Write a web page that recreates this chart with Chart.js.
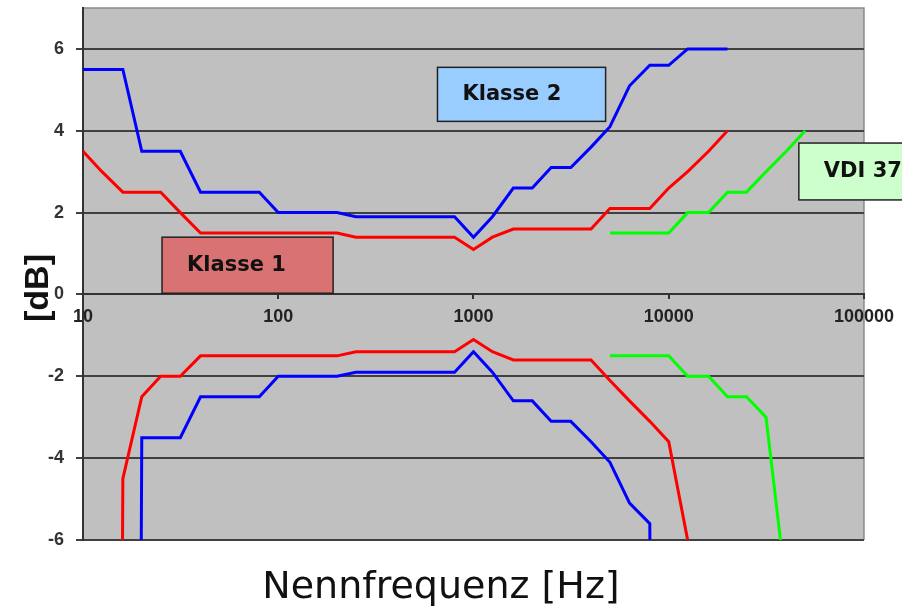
<!DOCTYPE html>
<html>
<head>
<meta charset="utf-8">
<script src="https://cdn.jsdelivr.net/npm/chart.js@4.4.0/dist/chart.umd.min.js"></script>
<style>
  body { margin: 0; background: #fff; }
  #chartBox { width: 902px; height: 610px; }
</style>
</head>
<body>
<div id="chartBox"><canvas id="toleranceChart"></canvas></div>
<script>
// third-octave centre frequencies in Hz
let freqs = [10, 12.5, 16, 20, 25, 31.5, 40, 50, 63, 80,
  100, 125, 160, 200, 250, 315, 400, 500, 630, 800,
  1000, 1250, 1600, 2000, 2500, 3150, 4000, 5000, 6300, 8000,
  10000, 12500, 16000, 20000]

// -100 stands for "minus infinity" (off the bottom of the chart)
let class1Upper = [3.5, 3.0, 2.5, 2.5, 2.5, 2.0, 1.5, 1.5, 1.5, 1.5,
  1.5, 1.5, 1.5, 1.5, 1.4, 1.4, 1.4, 1.4, 1.4, 1.4,
  1.1, 1.4, 1.6, 1.6, 1.6, 1.6, 1.6, 2.1, 2.1, 2.1,
  2.6, 3.0, 3.5, 4.0]
let class1Lower = [-100, -100, -4.5, -2.5, -2.0, -2.0, -1.5, -1.5, -1.5, -1.5,
  -1.5, -1.5, -1.5, -1.5, -1.4, -1.4, -1.4, -1.4, -1.4, -1.4,
  -1.1, -1.4, -1.6, -1.6, -1.6, -1.6, -1.6, -2.1, -2.6, -3.1,
  -3.6, -6.0, -17, -100]

let class2Upper = [5.5, 5.5, 5.5, 3.5, 3.5, 3.5, 2.5, 2.5, 2.5, 2.5,
  2.0, 2.0, 2.0, 2.0, 1.9, 1.9, 1.9, 1.9, 1.9, 1.9,
  1.4, 1.9, 2.6, 2.6, 3.1, 3.1, 3.6, 4.1, 5.1, 5.6,
  5.6, 6.0, 6.0, 6.0]
let class2Lower = [-100, -100, -100, -3.5, -3.5, -3.5, -2.5, -2.5, -2.5, -2.5,
  -2.0, -2.0, -2.0, -2.0, -1.9, -1.9, -1.9, -1.9, -1.9, -1.9,
  -1.4, -1.9, -2.6, -2.6, -3.1, -3.1, -3.6, -4.1, -5.1, -5.6,
  -100, -100, -100, -100]

// VDI 3766 (ultrasound) only covers the upper range
let vdiFreqs = [5000, 6300, 8000, 10000, 12500, 16000, 20000, 25000, 31500, 40000, 50000]
let vdiUpper = [1.5, 1.5, 1.5, 1.5, 2.0, 2.0, 2.5, 2.5, 3.0, 3.5, 4.0]
let vdiLower = [-1.5, -1.5, -1.5, -1.5, -2.0, -2.0, -2.5, -2.5, -3.0, -7.2, -100]

let xTicks = [10, 100, 1000, 10000, 100000]
let yTicks = [-6, -4, -2, 0, 2, 4, 6]

// text boxes, given in Hz / dB
let notes = [
  { text: "Klasse 2", from: 654, to: 4750, top: 5.55, bottom: 4.23, fill: "#99ccff" },
  { text: "Klasse 1", from: 25.4, to: 191, top: 1.4, bottom: 0.03, fill: "#d97272" },
  { text: "VDI 3766", from: 46400, to: 500000, top: 3.7, bottom: 2.31, fill: "#ccffcc" }
]

function toPoints(xs, ys) {
  return xs.map(function(f, i) {
    return { x: f, y: ys[i] }
  })
}

function lineSet(label, xs, ys, colour) {
  return {
    label: label,
    data: toPoints(xs, ys),
    borderColor: colour,
    borderWidth: 3,
    pointRadius: 0,
    tension: 0,
    fill: false
  }
}

let plotBackground = {
  id: "plotBackground",
  beforeDraw(chart) {
    let ctx = chart.ctx, a = chart.chartArea
    ctx.save()
    ctx.fillStyle = "#fff"
    ctx.fillRect(0, 0, chart.width, chart.height)
    ctx.fillStyle = "#c0c0c0"
    ctx.fillRect(a.left, a.top, a.right - a.left, a.bottom - a.top)
    ctx.strokeStyle = "#8a8a8a"
    ctx.lineWidth = 1.5
    ctx.beginPath()
    ctx.moveTo(a.left, a.top)
    ctx.lineTo(a.right, a.top)
    ctx.lineTo(a.right, a.bottom)
    ctx.stroke()
    ctx.restore()
  }
}

let labelsPlugin = {
  id: "labels",
  afterDraw(chart) {
    let ctx = chart.ctx, xs = chart.scales.x, ys = chart.scales.y
    ctx.save()
    notes.forEach(function(n) {
      let left = xs.getPixelForValue(n.from)
      let right = xs.getPixelForValue(n.to)
      let top = ys.getPixelForValue(n.top)
      let bottom = ys.getPixelForValue(n.bottom)
      ctx.fillStyle = n.fill
      ctx.fillRect(left, top, right - left, bottom - top)
      ctx.strokeStyle = "#222"
      ctx.lineWidth = 1.5
      ctx.strokeRect(left, top, right - left, bottom - top)
      ctx.fillStyle = "#111"
      ctx.font = "bold 21px 'DejaVu Sans'"
      ctx.textAlign = "left"
      ctx.textBaseline = "middle"
      ctx.fillText(n.text, left + 25, (top + bottom) / 2)
    })

    // axis titles
    ctx.fillStyle = "#111"
    ctx.font = "38px 'DejaVu Sans'"
    ctx.textAlign = "center"
    ctx.textBaseline = "alphabetic"
    ctx.fillText("Nennfrequenz [Hz]", 441, 598)

    ctx.translate(48, 288)
    ctx.rotate(-Math.PI / 2)
    ctx.font = "bold 34px 'Liberation Sans'"
    ctx.fillText("[dB]", 0, 0)
    ctx.restore()
  }
}

let tickFont = { family: "'Liberation Sans', Arial, sans-serif", size: 18, weight: "bold" }

new Chart(document.querySelector("#toleranceChart"), {
  type: "line",
  data: {
    datasets: [
      lineSet("Klasse 1 oben", freqs, class1Upper, "#ff0000"),
      lineSet("Klasse 1 unten", freqs, class1Lower, "#ff0000"),
      lineSet("Klasse 2 oben", freqs, class2Upper, "#0000ff"),
      lineSet("Klasse 2 unten", freqs, class2Lower, "#0000ff"),
      lineSet("VDI oben", vdiFreqs, vdiUpper, "#00ff00"),
      lineSet("VDI unten", vdiFreqs, vdiLower, "#00ff00")
    ]
  },
  options: {
    responsive: true,
    maintainAspectRatio: false,
    animation: false,
    layout: { padding: { top: 8, right: 38, bottom: 70, left: 0 } },
    plugins: {
      legend: { display: false },
      tooltip: { enabled: false }
    },
    scales: {
      x: {
        type: "logarithmic",
        position: { y: 0 },
        min: 10,
        max: 100000,
        afterBuildTicks: function(scale) {
          scale.ticks = xTicks.map(function(v) { return { value: v } })
        },
        ticks: {
          autoSkip: false,
          maxRotation: 0,
          padding: 8,
          color: "#222",
          font: tickFont,
          callback: function(v) { return String(v) }
        },
        grid: { drawOnChartArea: false, drawTicks: true, tickLength: 4, color: "#333", lineWidth: 2 },
        border: { display: true, color: "#333", width: 2 }
      },
      y: {
        min: -6,
        max: 7,
        afterBuildTicks: function(scale) {
          scale.ticks = yTicks.map(function(v) { return { value: v } })
        },
        afterFit: function(scale) {
          scale.width = 83
          scale.paddingTop = 0
          scale.paddingBottom = 0
        },
        ticks: { padding: 12, color: "#333", font: tickFont },
        grid: { color: "#404040", lineWidth: 2, tickLength: 7 },
        border: { display: true, color: "#333", width: 2 }
      }
    }
  },
  plugins: [plotBackground, labelsPlugin]
})
</script>
</body>
</html>
